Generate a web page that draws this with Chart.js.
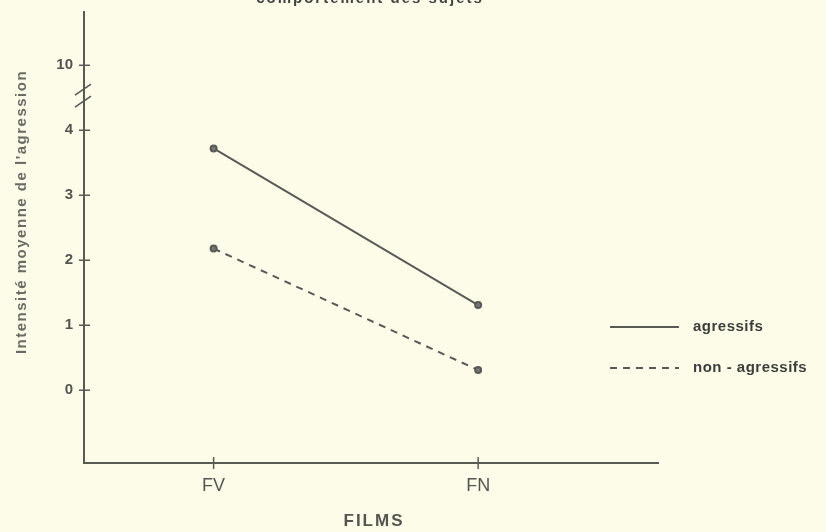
<!DOCTYPE html>
<html><head><meta charset="utf-8">
<script src="https://cdn.jsdelivr.net/npm/chart.js@4/dist/chart.umd.min.js"></script>
<style>html,body{margin:0;padding:0;background:#fcfce9;}#wrap{width:826px;height:532px;position:relative;}</style>
</head><body><div id="wrap"><canvas id="c" width="826" height="532"></canvas></div>
<script>
const categories = ["FV", "FN"];
const agressifs = [3.72, 1.31];
const nonAgressifs = [2.18, 0.31];
const yTickValues = [0, 1, 2, 3, 4, 5];
const yTickLabels = ["0", "1", "2", "3", "4", "10"];
const seriesLabels = ["agressifs", "non - agressifs"];
const titleText = "comportement des sujets";
const yTitle = "Intensité moyenne de l'agression";
const xTitle = "FILMS";

const ink = "#5a5a55";
const txt = "#6b6b66";
const F = "'Liberation Sans', Arial, sans-serif";

const extras = {
  id: 'extras',
  afterDraw(chart) {
    const ctx = chart.ctx, xs = chart.scales.x, ys = chart.scales.y;
    const ax = xs.left, ay = ys.bottom;
    ctx.save();
    ctx.strokeStyle = ink; ctx.lineWidth = 1.5;
    yTickValues.forEach(v => { const y = ys.getPixelForValue(v); ctx.beginPath(); ctx.moveTo(ax - 5, y); ctx.lineTo(ax + 6, y); ctx.stroke(); });
    [0, 1].forEach(v => { const x = xs.getPixelForValue(v); ctx.beginPath(); ctx.moveTo(x, ay - 6); ctx.lineTo(x, ay + 6); ctx.stroke(); });
    const yb = ys.getPixelForValue(4.54);
    ctx.lineWidth = 1.6;
    [-6, 6].forEach(d => { ctx.beginPath(); ctx.moveTo(ax - 9, yb + d + 6); ctx.lineTo(ax + 7, yb + d - 5); ctx.stroke(); });
    ctx.fillStyle = txt; ctx.font = "bold 15px " + F;
    ctx.letterSpacing = "1.5px";
    ctx.translate(22, 212); ctx.rotate(-Math.PI / 2);
    ctx.textAlign = 'center'; ctx.textBaseline = 'middle';
    ctx.fillText(yTitle, 0, 0);
    ctx.setTransform(1, 0, 0, 1, 0, 0);
    ctx.font = "bold 17px " + F; ctx.textAlign = 'center'; ctx.textBaseline = 'middle';
    ctx.letterSpacing = "2px";
    ctx.fillStyle = "#555550";
    ctx.fillText(xTitle, 374, 521);
    ctx.font = "bold 15px " + F; ctx.fillStyle = "#444";
    ctx.textBaseline = 'alphabetic';
    ctx.fillText(titleText, 370, 3);
    ctx.letterSpacing = "0.5px";
    chart.data.datasets.forEach((ds, i) => {
      const y = 327 + i * 41;
      ctx.strokeStyle = ink; ctx.lineWidth = 2; ctx.setLineDash(ds.borderDash || []);
      ctx.beginPath(); ctx.moveTo(610, y); ctx.lineTo(679, y); ctx.stroke();
      ctx.setLineDash([]);
      ctx.fillStyle = "#3d3d3a"; ctx.font = "bold 15px " + F; ctx.textAlign = 'left'; ctx.textBaseline = 'middle';
      ctx.fillText(ds.label, 693, y);
    });
    ctx.restore();
  }
};

new Chart(document.getElementById('c'), {
  type: 'line',
  data: {
    datasets: [
      { label: seriesLabels[0], data: agressifs.map((v, i) => ({x: i, y: v})), borderColor: ink, backgroundColor: ink, borderWidth: 2, pointRadius: 3, pointBackgroundColor: '#777', pointBorderColor: ink, borderDash: [] },
      { label: seriesLabels[1], data: nonAgressifs.map((v, i) => ({x: i, y: v})), borderColor: ink, backgroundColor: ink, borderWidth: 2, pointRadius: 3, pointBackgroundColor: '#777', pointBorderColor: ink, borderDash: [7, 6] }
    ]
  },
  options: {
    responsive: false, animation: false, devicePixelRatio: 1,
    layout: { padding: { left: 0, right: 168, top: 12, bottom: 0 } },
    plugins: { legend: { display: false }, tooltip: { enabled: false } },
    scales: {
      x: {
        type: 'linear', min: -0.49, max: 1.68,
        afterBuildTicks: s => { s.ticks = [{value: 0}, {value: 1}]; },
        afterFit: s => { s.height = 69; s.paddingLeft = 0; s.paddingRight = 0; },
        grid: { display: false, drawTicks: false },
        border: { display: true, color: ink, width: 2 },
        ticks: { padding: 12, color: "#555550", font: { family: F, size: 18 }, callback: v => categories[v] ?? '' }
      },
      y: {
        type: 'linear', min: -1.12, max: 5.82,
        afterBuildTicks: s => { s.ticks = yTickValues.map(v => ({value: v})); },
        afterFit: s => { s.width = 84; s.paddingTop = 0; s.paddingBottom = 0; },
        grid: { display: false, drawTicks: false },
        border: { display: true, color: ink, width: 2 },
        ticks: { padding: 11, color: "#555550", font: { family: F, size: 15, weight: 'bold' }, callback: v => { const k = yTickValues.indexOf(v); return k >= 0 ? yTickLabels[k] : ''; } }
      }
    }
  },
  plugins: [extras]
});
</script></body></html>
